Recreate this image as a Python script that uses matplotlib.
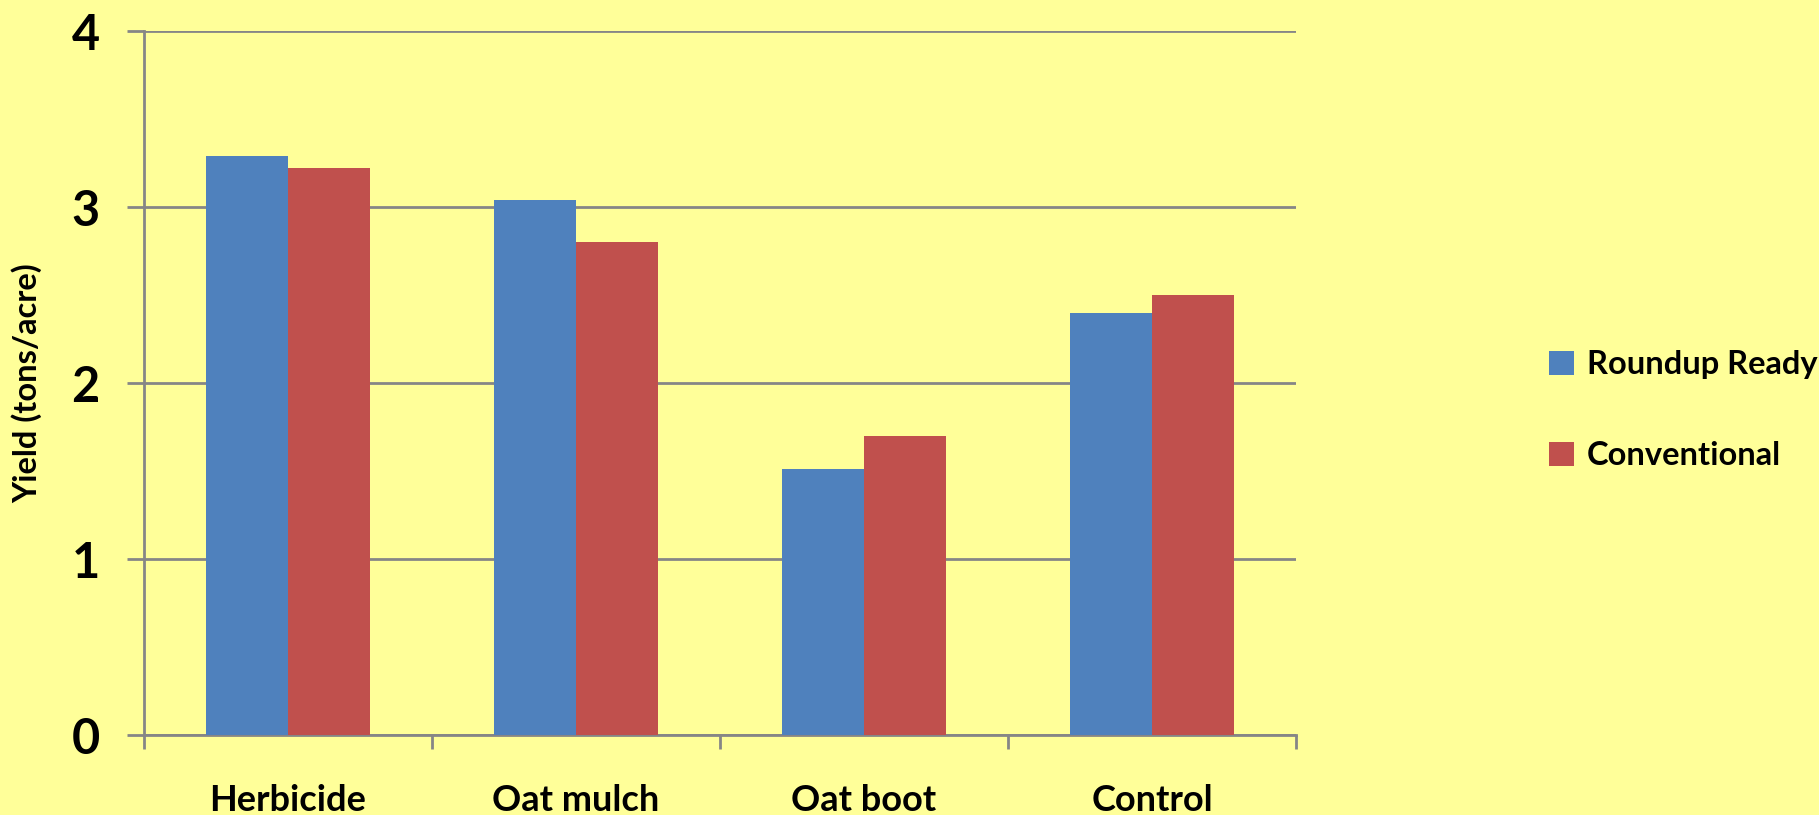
import matplotlib
matplotlib.use("Agg")
import matplotlib.pyplot as plt
import numpy as np
from matplotlib.patches import Patch

categories = ["Herbicide", "Oat mulch", "Oat boot", "Control"]
roundup_ready = [3.29, 3.04, 1.51, 2.40]
conventional = [3.22, 2.80, 1.70, 2.50]
series_names = ["Roundup Ready", "Conventional"]
y_ticks = [0, 1, 2, 3, 4]

BG = "#FFFF99"
BLUE = "#4F81BD"
RED = "#C0504D"
GRID = "#868686"
FONT = ["Lato", "DejaVu Sans"]

plt.rcParams['font.family'] = FONT
plt.rcParams['font.weight'] = 'bold'

fig = plt.figure(figsize=(18.19, 8.15), dpi=100, facecolor=BG)
ax = fig.add_axes([144/1819, 1-735/815, (1296-144)/1819, (735-31)/815])
ax.set_facecolor(BG)

x = np.arange(len(categories))
w = 1/3.5
ax.bar(x - w/2, roundup_ready, width=w, color=BLUE, zorder=3, label=series_names[0])
ax.bar(x + w/2, conventional, width=w, color=RED, zorder=3, label=series_names[1])

ax.set_xlim(-0.5, len(categories) - 0.5)
ax.set_ylim(0, 4)
ax.set_yticks(y_ticks)
ax.set_yticklabels([str(t) for t in y_ticks], fontsize=35, fontweight='bold')
ax.yaxis.grid(True, color=GRID, linewidth=2.0, zorder=0)
ax.set_axisbelow(True)

ax.set_xticks(x)
ax.set_xticklabels(categories, fontsize=26, fontweight='bold')
ax.set_xticks(np.arange(-0.5, len(categories)), minor=True)
ax.tick_params(axis='x', which='major', length=0, pad=35)
ax.tick_params(axis='x', which='minor', length=10, width=2.0, color=GRID, direction='out')
ax.tick_params(axis='y', length=12, width=2.0, color=GRID, pad=20)

for s in ['top', 'right']:
    ax.spines[s].set_visible(False)
for s in ['left', 'bottom']:
    ax.spines[s].set_color(GRID)
    ax.spines[s].set_linewidth(2.0)

ax.set_ylabel("Yield (tons/acre)", fontsize=23.5, fontweight='bold', labelpad=21)

handles = [Patch(facecolor=BLUE, label=series_names[0]), Patch(facecolor=RED, label=series_names[1])]
fig.legend(handles=handles, loc='center left', bbox_to_anchor=(1520/1819, 1-410/815),
           frameon=False, prop={'family': FONT, 'weight': 'bold', 'size': 23.5},
           handlelength=0.75, handleheight=0.75, handletextpad=0.4, labelspacing=1.9)

fig.savefig("out.png", dpi=100, facecolor=BG)
